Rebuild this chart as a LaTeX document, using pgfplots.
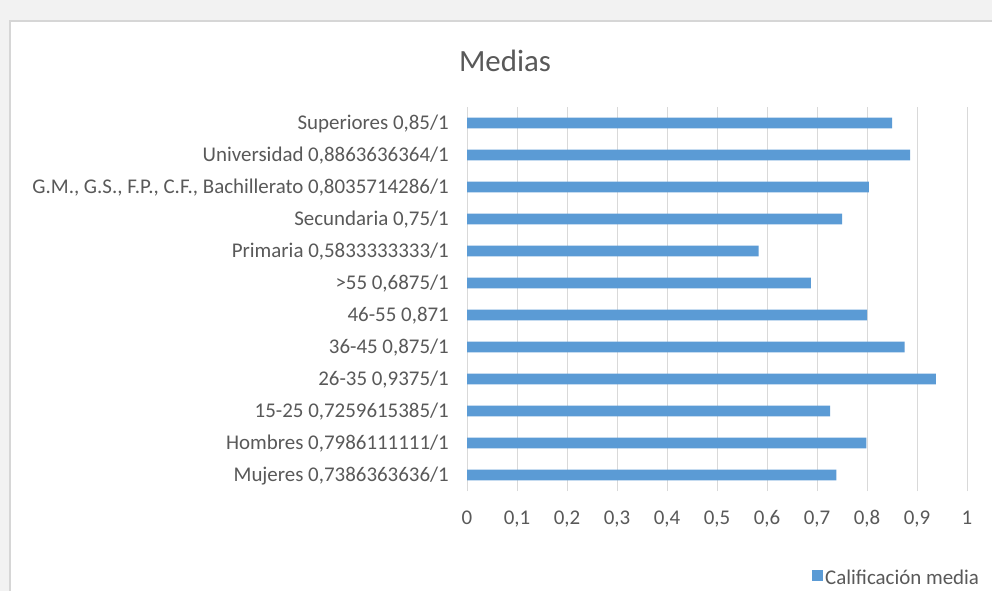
\documentclass[border=0pt]{standalone}
\usepackage{fontspec}
\setmainfont{Carlito}
\usepackage{pgfplots}
\pgfplotsset{compat=1.18}
\definecolor{barblue}{HTML}{5B9BD5}
\definecolor{textgrey}{HTML}{595959}
\definecolor{gridgrey}{HTML}{D9D9D9}
\definecolor{bggrey}{HTML}{F2F2F2}
\definecolor{framegrey}{HTML}{D6D6D6}

\begin{document}
\begin{tikzpicture}
\useasboundingbox (0,0) rectangle (992bp,591bp);
\fill[bggrey] (0,0) rectangle (992bp,591bp);
\fill[white] (10bp,0) rectangle (992bp,570bp);
\draw[framegrey, line width=2bp] (10bp,0) -- (10bp,570bp) -- (992bp,570bp);

\node[font=\fontsize{31}{36}\selectfont, text=textgrey, text height=20bp, text depth=0pt, inner sep=0pt]
  at (505bp,529bp) {Medias};

\begin{axis}[
  at={(467bp,100bp)}, anchor=south west,
  scale only axis, width=500bp, height=384bp,
  xbar, bar width=10.7bp,
  xmin=0, xmax=1,
  ymin=-0.5, ymax=11.5,
  xtick={0,0.1,0.2,0.3,0.4,0.5,0.6,0.7,0.8,0.9,1},
  xticklabels={0,{0,1},{0,2},{0,3},{0,4},{0,5},{0,6},{0,7},{0,8},{0,9},1},
  ytick={0,1,2,3,4,5,6,7,8,9,10,11},
  yticklabels={
    {Mujeres 0,7386363636/1},
    {Hombres 0,7986111111/1},
    {15-25 0,7259615385/1},
    {26-35 0,9375/1},
    {36-45 0,875/1},
    {46-55 0,871},
    {>55 0,6875/1},
    {Primaria 0,5833333333/1},
    {Secundaria 0,75/1},
    {G.M., G.S., F.P., C.F., Bachillerato 0,8035714286/1},
    {Universidad 0,8863636364/1},
    {Superiores 0,85/1}},
  major tick length=0pt,
  axis line style={draw=none},
  xmajorgrids, ymajorgrids=false,
  grid style={gridgrey, line width=1bp},
  tick label style={font=\fontsize{21}{25}\selectfont, text=textgrey},
  xticklabel style={anchor=base, yshift=-33.5bp},
  yticklabel style={anchor=east, inner sep=0pt, text height=13.5bp, text depth=0pt, xshift=-18bp},
  legend style={at={(0.69,-0.2253)}, anchor=west, draw=none, fill=none, inner sep=0pt,
    font=\fontsize{21}{25}\selectfont, text=textgrey,
    nodes={inner sep=2bp, text height=13.5bp, text depth=0pt},
    /tikz/every even column/.append style={column sep=2bp}},
  legend image code/.code={\fill[barblue] (0bp,-3.5bp) rectangle (11bp,7.5bp);},
  clip=false,
]
\addplot[fill=barblue, draw=none] coordinates {
  (0.7386,0) (0.7986,1) (0.7260,2) (0.9375,3) (0.875,4) (0.800,5)
  (0.6875,6) (0.5833,7) (0.75,8) (0.8036,9) (0.8864,10) (0.85,11)};
\legend{Calificación media}
\end{axis}
\end{tikzpicture}
\end{document}
